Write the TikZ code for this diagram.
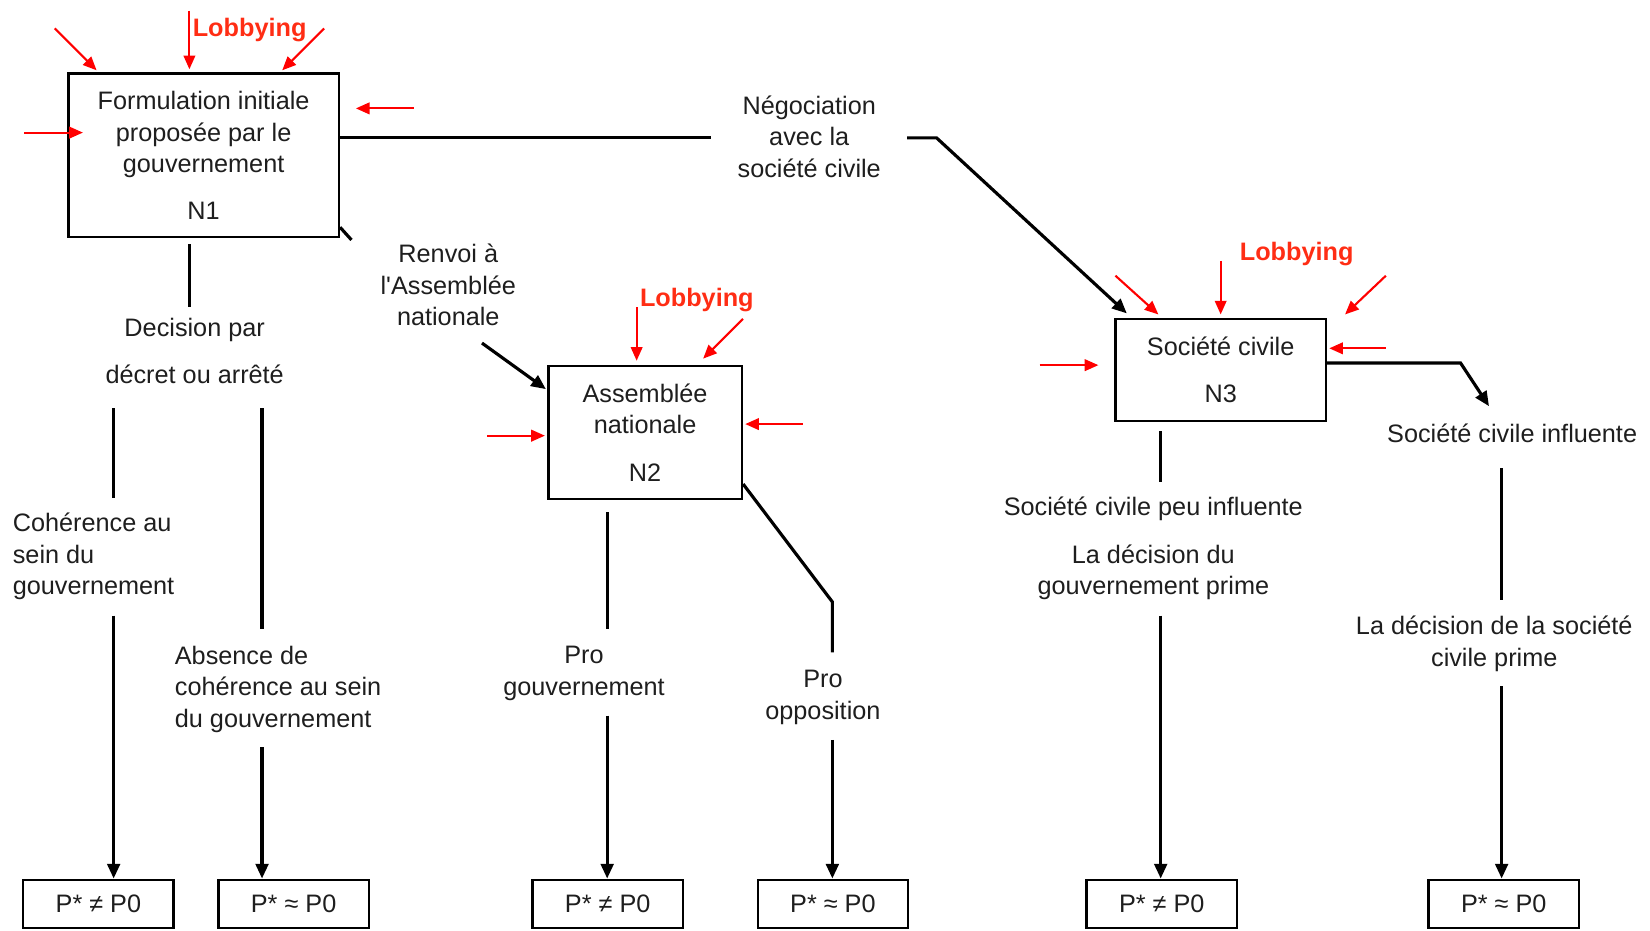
\documentclass[tikz,border=0pt]{standalone}
\usepackage{fontspec}
\setmainfont{Liberation Sans}[Ligatures=TeXOff]
\usetikzlibrary{arrows.meta}
\definecolor{lobred}{RGB}{255,45,20}
\definecolor{txtc}{RGB}{30,30,30}
\begin{document}
\begin{tikzpicture}[x=1pt,y=-1pt,
  txt/.style={font=\fontsize{24}{30}\selectfont, align=center, inner sep=0pt, text=txtc},
  bx/.style={draw, line width=2.4pt, txt},
  resbox/.style={draw, line width=2.2pt, minimum width=143pt, minimum height=46pt, txt},
  conn/.style={line width=3pt},
  arr/.style={conn, -{Triangle[length=14pt,width=12pt]}},
  redarr/.style={draw=red, line width=2pt, -{Triangle[length=13pt,width=11pt]}},
  lob/.style={font=\fontsize{24}{30}\selectfont\bfseries, text=lobred, inner sep=0pt, anchor=west}]
\useasboundingbox (0,0) rectangle (1568,884);

% main boxes
\node[bx, minimum width=257pt, minimum height=155pt] (n1) at (193.5,147.5)
  {Formulation initiale\\proposée par le\\gouvernement\\[14pt]N1};
\node[bx, minimum width=184pt, minimum height=126pt] (n2) at (613,411)
  {Assemblée\\nationale\\[15pt]N2};
\node[bx, minimum width=200pt, minimum height=97pt] (n3) at (1160,351.5)
  {Société civile\\[15pt]N3};

% lobbying labels
\node[lob] (lob1) at (183,29) {Lobbying};
\node[lob] (lob2) at (608,285) {Lobbying};
\node[lob] (lob3) at (1178,241) {Lobbying};

% labels
\node[txt] (neg) at (769,130) {Négociation\\avec la\\société civile};
\node[txt] (renv) at (426,271) {Renvoi à\\l'Assemblée\\nationale};
\node[txt] (dec) at (185,333.5) {Decision par\\[15pt]décret ou arrêté};
\node[txt, align=left, anchor=west] (coh) at (12,529) {Cohérence au\\sein du\\gouvernement};
\node[txt, align=left, anchor=west] (abs) at (166,655) {Absence de\\cohérence au sein\\du gouvernement};
\node[txt] (prog) at (555,640) {Pro\\gouvernement};
\node[txt] (proo) at (782,663) {Pro\\opposition};
\node[txt] (scpi) at (1096,484) {Société civile peu influente};
\node[txt] (dgp) at (1096,544) {La décision du\\gouvernement prime};
\node[txt] (sci) at (1437,412) {Société civile influente};
\node[txt] (dsp) at (1420,612) {La décision de la société\\civile prime};

% result boxes
\node[resbox] (r1) at (93.5,859) {P* ≠ P0};
\node[resbox] (r2) at (279,859) {P* ≈ P0};
\node[resbox] (r3) at (577.5,859) {P* ≠ P0};
\node[resbox] (r4) at (791.5,859) {P* ≈ P0};
\node[resbox] (r5) at (1104,859) {P* ≠ P0};
\node[resbox] (r6) at (1429,859) {P* ≈ P0};

% coordinates for free ends
\coordinate (a1) at (676,131);
\coordinate (a2) at (862,131);
\coordinate (a3) at (890,131);
\coordinate (b1) at (334,228);
\coordinate (b2) at (458,326);
\coordinate (d0) at (180,232);
\coordinate (d1) at (180,292);
\coordinate (e0) at (108,388);
\coordinate (e1) at (108,473);
\coordinate (e2) at (108,585);
\coordinate (f0) at (249,388);
\coordinate (f1) at (249,598);
\coordinate (f2) at (249,710);
\coordinate (g0) at (577,487);
\coordinate (g1) at (577,598);
\coordinate (g2) at (577,680);
\coordinate (h1) at (791,572);
\coordinate (h2) at (791,620);
\coordinate (h3) at (791,703);
\coordinate (k0) at (1103,410);
\coordinate (k1) at (1103,458);
\coordinate (k2) at (1103,585);
\coordinate (m1) at (1388,345);
\coordinate (m2) at (1415,386);
\coordinate (m3) at (1427,445);
\coordinate (m4) at (1427,570);
\coordinate (m5) at (1427,652);

% black connectors
\draw[conn] (n1.east |- a1) -- (a1);
\draw[arr] (a2) -- (a3) -- ([shift={(12,-4)}]n3.north west);
\draw[conn] (n1.east |- 0,216) -- (b1);
\draw[arr] (b2) -- ([shift={(-1,23)}]n2.north west);
\draw[conn] (d0) -- (d1);
\draw[conn] (e0) -- (e1);
\draw[arr] (e2) -- (r1.north -| e2);
\draw[conn] (f0) -- (f1);
\draw[arr] (f2) -- (r2.north -| f2);
\draw[conn] (g0) -- (g1);
\draw[arr] (g2) -- (r3.north -| g2);
\draw[conn] (n2.east |- 0,460) -- (h1) -- (h2);
\draw[arr] (h3) -- (r4.north -| h3);
\draw[conn] (k0) -- (k1);
\draw[arr] (k2) -- (r5.north -| k2);
\draw[arr] (n3.east |- m1) -- (m1) -- (m2);
\draw[conn] (m3) -- (m4);
\draw[arr] (m5) -- (r6.north -| m5);

% red arrows N1
\draw[redarr] (52,27) -- ([shift={(28,-2)}]n1.north west);
\draw[redarr] (180,10) -- ([shift={(-13.5,-3)}]n1.north);
\draw[redarr] (308,27) -- ([shift={(-55,-2)}]n1.north east);
\draw[redarr] (23,126) -- ([shift={(15,0)}]n1.west |- 0,126);
\draw[redarr] (393,103) -- ([shift={(15,0)}]n1.east |- 0,103);
% red arrows N2
\draw[redarr] (605,292) -- ([shift={(0,-4)}]n2.north -| 605,0);
\draw[redarr] (706,303) -- ([shift={(-38,-6)}]n2.north east);
\draw[redarr] (463,414) -- ([shift={(-2,0)}]n2.west |- 0,414);
\draw[redarr] (763,403) -- ([shift={(2,0)}]n2.east |- 0,403);
% red arrows N3
\draw[redarr] (1060,262) -- ([shift={(42,-3)}]n3.north west);
\draw[redarr] (1160,248) -- ([shift={(0,-3)}]n3.north);
\draw[redarr] (1317,262) -- ([shift={(17,-3)}]n3.north east);
\draw[redarr] (1317,331) -- ([shift={(2,0)}]n3.east |- 0,331);
\draw[redarr] (988,347) -- ([shift={(-15,0)}]n3.west |- 0,347);
\end{tikzpicture}
\end{document}
